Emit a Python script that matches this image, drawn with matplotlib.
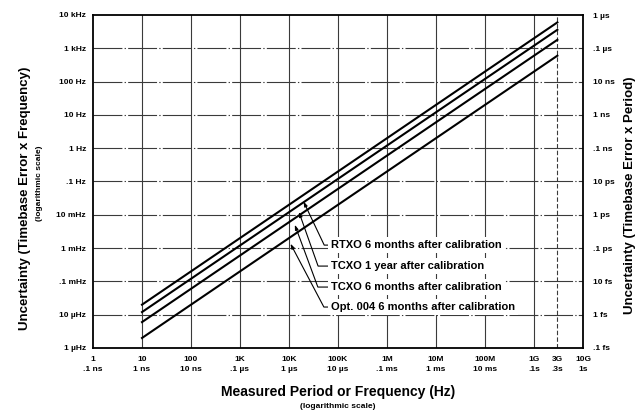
import numpy as np
import matplotlib
matplotlib.use('Agg')
from matplotlib import pyplot as plt

plt.rcParams['font.family'] = ['Liberation Sans', 'DejaVu Sans']

# measured frequency (Hz) at the two ends of each line
freq_ends = [10, 3e9]
# uncertainty (Hz) read at the two ends
rtxo_6mo = [2e-5, 6e3]
tcxo_1yr = [1.2e-5, 3.6e3]
tcxo_6mo = [6e-6, 1.8e3]
opt004_6mo = [2e-6, 6e2]

series = [rtxo_6mo, tcxo_1yr, tcxo_6mo, opt004_6mo]
series_labels = ['RTXO 6 months after calibration',
                 'TCXO 1 year after calibration',
                 'TCXO 6 months after calibration',
                 'Opt. 004 6 months after calibration']
# where the leader arrows touch each line (Hz)
arrow_freq = [1.77e4, 1.46e4, 1.2e4, 9.5e3]

x_ticks = [1, 10, 100, 1e3, 1e4, 1e5, 1e6, 1e7, 1e8, 1e9, 3e9, 1e10]
x_labels = ['1\n.1 ns', '10\n1 ns', '100\n10 ns', '1K\n.1 \u00b5s', '10K\n1 \u00b5s',
            '100K\n10 \u00b5s', '1M\n.1 ms', '10M\n1 ms', '100M\n10 ms',
            '1G\n.1s', '3G\n.3s', '10G\n1s']
y_ticks = [1e-6, 1e-5, 1e-4, 1e-3, 1e-2, 1e-1, 1, 10, 100, 1e3, 1e4]
y_labels = ['1 \u00b5Hz', '10 \u00b5Hz', '.1 mHz', '1 mHz', '10 mHz', '.1 Hz',
            '1 Hz', '10 Hz', '100 Hz', '1 kHz', '10 kHz']
y2_labels = ['.1 fs', '1 fs', '10 fs', '.1 ps', '1 ps', '10 ps',
             '.1 ns', '1 ns', '10 ns', '.1 \u00b5s', '1 \u00b5s']

fig = plt.figure(figsize=(6.38, 4.12), dpi=100)
ax = fig.add_axes([93 / 638, 1 - 348 / 412, 490 / 638, 333 / 412])
ax.set_xscale('log')
ax.set_yscale('log')
ax.set_xlim(1, 1e10)
ax.set_ylim(1e-6, 1e4)

gcol = '#3a3a3a'
for yv in y_ticks[1:-1]:
    ax.axhline(yv, color=gcol, lw=0.8, dashes=(26, 2, 1.2, 2), zorder=1)
for xv in x_ticks[1:-1]:
    if xv == 3e9:
        ax.axvline(xv, color=gcol, lw=0.8, dashes=(4, 2), zorder=1)
    else:
        ax.axvline(xv, color=gcol, lw=0.8, zorder=1)

for s in series:
    ax.plot(freq_ends, s, color='black', lw=1.5, zorder=3)

ax.set_xticks(x_ticks)
ax.set_xticklabels(x_labels, fontsize=6, fontweight='bold', linespacing=1.6)
ax.set_yticks(y_ticks)
ax.set_yticklabels(y_labels, fontsize=6, fontweight='bold')
ax.minorticks_off()
ax.tick_params(axis='x', length=0, pad=6)
ax.tick_params(axis='y', length=0, pad=5)
for sp in ax.spines.values():
    sp.set_linewidth(1.3)

ax2 = ax.twinx()
ax2.set_yscale('log')
ax2.set_ylim(1e-16, 1e-6)
ax2.set_yticks([v * 1e-10 for v in y_ticks])
ax2.set_yticklabels(y2_labels, fontsize=6, fontweight='bold')
ax2.minorticks_off()
ax2.tick_params(axis='y', length=0, pad=7)
for sp in ax2.spines.values():
    sp.set_visible(False)

# labels with leader arrows
text_y = [0.309, 0.246, 0.183, 0.123]
leader_angle = [-64.6, -70.5, -69.7, -62.2]
for lab, s, fa, ty, ang in zip(series_labels, series, arrow_freq, text_y, leader_angle):
    t = (np.log10(fa) - np.log10(freq_ends[0])) / (np.log10(freq_ends[1]) - np.log10(freq_ends[0]))
    ya = 10 ** (np.log10(s[0]) + t * (np.log10(s[1]) - np.log10(s[0])))
    ax.annotate(lab, xy=(fa, ya), xycoords='data',
                xytext=(0.486, ty), textcoords='axes fraction',
                ha='left', va='center', fontsize=8, fontweight='bold',
                bbox=dict(boxstyle='square,pad=0.25', fc='white', ec='none'),
                arrowprops=dict(arrowstyle='-|>,head_length=0.35,head_width=0.12',
                                color='black', lw=0.8, shrinkA=0, shrinkB=4,
                                connectionstyle='angle,angleA=180,angleB=%s,rad=0' % ang),
                zorder=4)

fig.text(25 / 638, 1 - 198 / 412, 'Uncertainty (Timebase Error x Frequency)',
         rotation=90, ha='center', va='center', fontsize=9.5, fontweight='bold')
fig.text(40 / 638, 1 - 183 / 412, '(logarithmic scale)',
         rotation=90, ha='center', va='center', fontsize=6, fontweight='bold')
fig.text(630 / 638, 1 - 195 / 412, 'Uncertainty (Timebase Error x Period)',
         rotation=90, ha='center', va='center', fontsize=9.5, fontweight='bold')
fig.text(338 / 638, 1 - 392 / 412, 'Measured Period or Frequency (Hz)',
         ha='center', va='center', fontsize=10, fontweight='bold')
fig.text(338 / 638, 1 - 406 / 412, '(logarithmic scale)',
         ha='center', va='center', fontsize=6, fontweight='bold')

plt.savefig('out.png', dpi=100)
